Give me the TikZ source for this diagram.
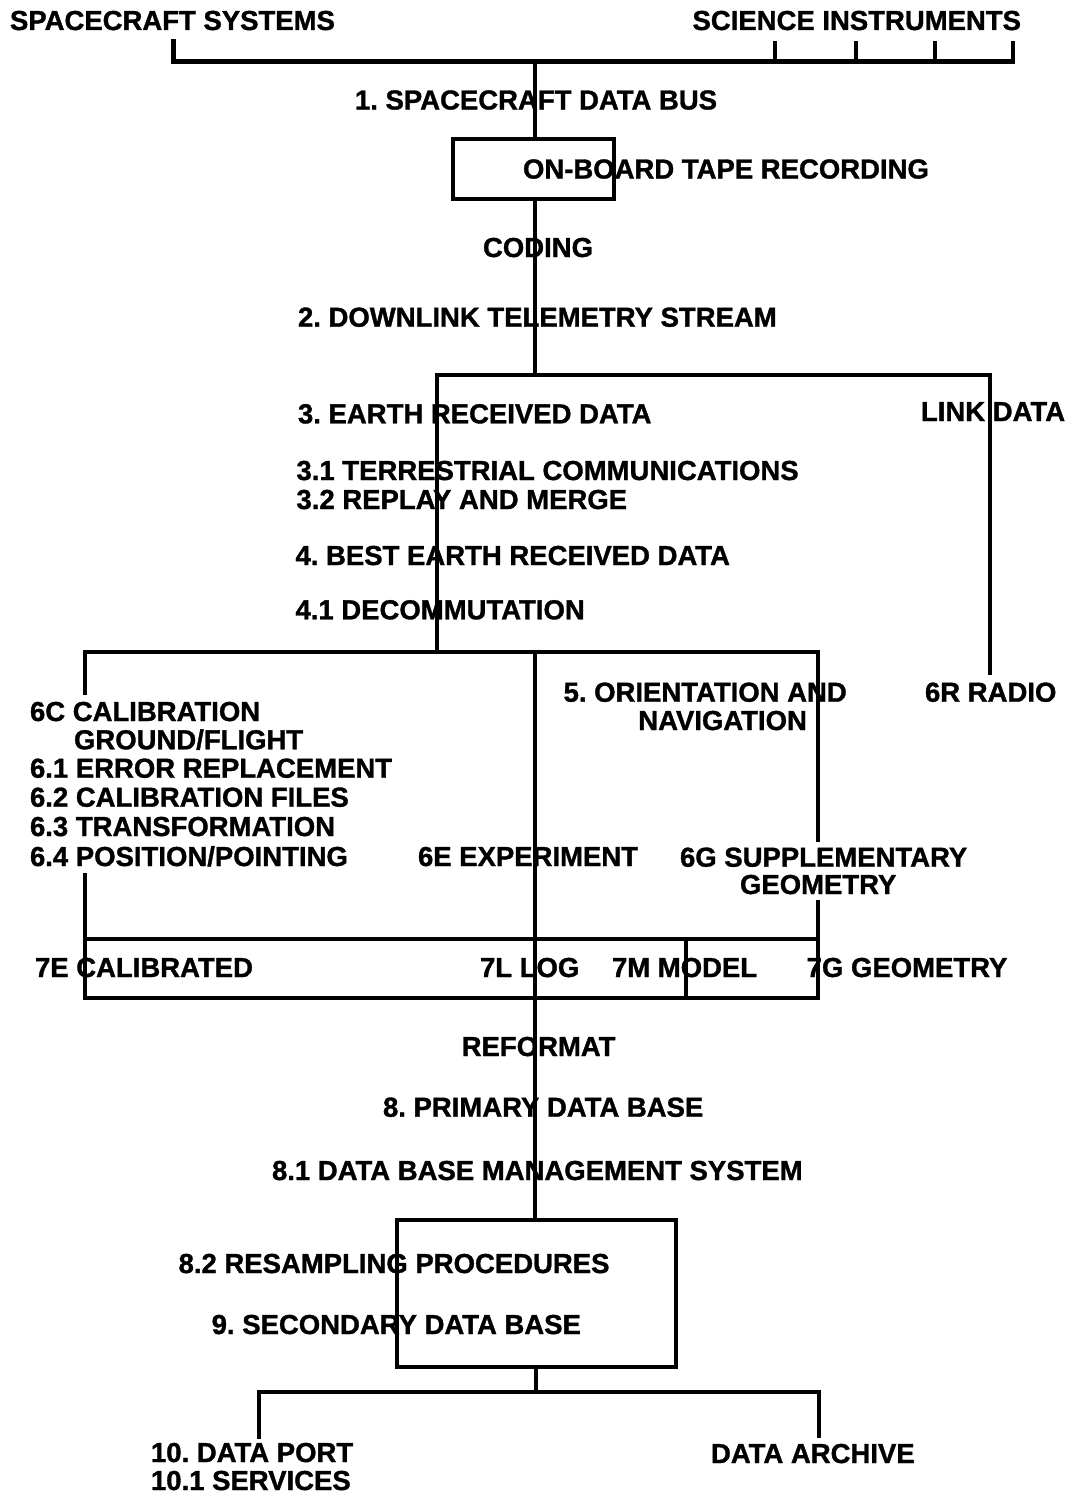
\documentclass[tikz,border=0pt]{standalone}
\usepackage{fontspec}
\setmainfont{Liberation Sans}
\newfontfamily\lblfam{Liberation Sans}[UprightFont=*-Bold, FakeBold=1.2]
\newcommand{\lblfont}{\lblfam\fontsize{27.5}{29}\selectfont\frenchspacing}
\begin{document}
\begin{tikzpicture}[x=1pt,y=-1pt,
  lbl/.style={anchor=base west, inner sep=0pt, outer sep=0pt, font=\lblfont},
  wire/.style={line width=4pt, line join=miter},
  busline/.style={line width=4.5pt, line join=miter}]
\fill[white] (0,0) rectangle (1075,1496);
\useasboundingbox (0,0) rectangle (1075,1496);

% ---- coordinates ----
\coordinate (tkL) at (173.5,39);
\coordinate (busL) at (173.5,61.5);
\coordinate (busR) at (1013,61.5);
\coordinate (tkR) at (1013,41.5);
\coordinate (tk1t) at (775,41.5);   \coordinate (tk1b) at (775,61.5);
\coordinate (tk2t) at (855.5,41.5); \coordinate (tk2b) at (855.5,61.5);
\coordinate (tk3t) at (934.5,41.5); \coordinate (tk3b) at (934.5,61.5);
\coordinate (busM) at (535,61.5);
\coordinate (boxAtop) at (535,138.5);
\coordinate (boxAbot) at (535,199.3);
\coordinate (boxAnw) at (452.5,138.5);
\coordinate (boxAse) at (613.6,199.3);
\coordinate (splitM) at (535,375);
\coordinate (splitL) at (437,375);
\coordinate (splitR) at (990,375);
\coordinate (linkEnd) at (990,675);
\coordinate (decEnd) at (437,651.7);
\coordinate (b6L) at (85,651.7);
\coordinate (b6M) at (535,651.7);
\coordinate (b6R) at (818,651.7);
\coordinate (c6top) at (85,695);
\coordinate (c6bot) at (85,873);
\coordinate (g6top) at (818,842);
\coordinate (g6bot) at (818,900);
\coordinate (b7L) at (85,938.5);
\coordinate (b7R) at (818,938.5);
\coordinate (b7M) at (685.5,938.5);
\coordinate (b8L) at (85,998);
\coordinate (b8R) at (818,998);
\coordinate (b8M) at (685.5,998);
\coordinate (boxBtop) at (535,1220);
\coordinate (boxBnw) at (396.7,1220);
\coordinate (boxBse) at (676,1366.7);
\coordinate (boxBbot) at (536,1366.7);
\coordinate (b10M) at (536,1391.7);
\coordinate (b10L) at (259,1391.7);
\coordinate (b10R) at (819,1391.7);
\coordinate (portTop) at (259,1439);
\coordinate (archTop) at (819,1438);

% ---- lines ----
\draw[busline] (tkL) -- (busL) -- (busR) -- (tkR);
\draw[wire] (tk1t) -- (tk1b);
\draw[wire] (tk2t) -- (tk2b);
\draw[wire] (tk3t) -- (tk3b);
\draw[wire] (busM) -- (boxAtop);
\draw[wire] (boxAnw) rectangle (boxAse);
\draw[wire] (boxAbot) -- (splitM);
\draw[wire] (decEnd) -- (splitL) -- (splitR) -- (linkEnd);
\draw[wire] (c6top) -- (b6L) -- (b6R) -- (g6top);
\draw[wire] (b6M) -- (boxBtop);
\draw[wire] (c6bot) -- (b8L) -- (b8R) -- (g6bot);
\draw[wire] (b7L) -- (b7R);
\draw[wire] (b7M) -- (b8M);
\draw[wire] (boxBnw) rectangle (boxBse);
\draw[wire] (boxBbot) -- (b10M);
\draw[wire] (portTop) -- (b10L) -- (b10R) -- (archTop);

% ---- labels ----
\node[lbl] (scsys) at (10,30) {SPACECRAFT SYSTEMS};
\node[lbl, anchor=base east] (sci) at (1021,30) {SCIENCE INSTRUMENTS};
\node[lbl] (n1) at (355,109.5) {1. SPACECRAFT DATA BUS};
\node[lbl] (tape) at (523,178.5) {ON-BOARD TAPE RECORDING};
\node[lbl] (coding) at (483,257) {CODING};
\node[lbl] (n2) at (298,326.7) {2. DOWNLINK TELEMETRY STREAM};
\node[lbl] (n3) at (298,423.3) {3. EARTH RECEIVED DATA};
\node[lbl] (link) at (921,421) {LINK DATA};
\node[lbl] (n31) at (296.5,480) {3.1 TERRESTRIAL COMMUNICATIONS};
\node[lbl] (n32) at (296.5,509) {3.2 REPLAY AND MERGE};
\node[lbl] (n4) at (295.5,565) {4. BEST EARTH RECEIVED DATA};
\node[lbl] (n41) at (295.5,619.3) {4.1 DECOMMUTATION};
\node[lbl] (n5a) at (563.6,701.7) {5. ORIENTATION AND};
\node[lbl] (n5b) at (638.3,730) {NAVIGATION};
\node[lbl] (n6r) at (925,701.7) {6R RADIO};
\node[lbl] (n6c) at (30,721) {6C CALIBRATION};
\node[lbl] (n6cb) at (74,749.3) {GROUND/FLIGHT};
\node[lbl] (n61) at (30,777.7) {6.1 ERROR REPLACEMENT};
\node[lbl] (n62) at (30,806.7) {6.2 CALIBRATION FILES};
\node[lbl] (n63) at (30,836) {6.3 TRANSFORMATION};
\node[lbl] (n64) at (30,866) {6.4 POSITION/POINTING};
\node[lbl] (n6e) at (418,866) {6E EXPERIMENT};
\node[lbl] (n6g) at (680,866.7) {6G SUPPLEMENTARY};
\node[lbl] (n6gb) at (740,894) {GEOMETRY};
\node[lbl] (n7e) at (35,977) {7E CALIBRATED};
\node[lbl] (n7l) at (480,977) {7L LOG};
\node[lbl] (n7m) at (612,977) {7M MODEL};
\node[lbl] (n7g) at (806.7,977) {7G GEOMETRY};
\node[lbl] (refmt) at (461.7,1056) {REFORMAT};
\node[lbl] (n8) at (383,1116.7) {8. PRIMARY DATA BASE};
\node[lbl] (n81) at (272,1180) {8.1 DATA BASE MANAGEMENT SYSTEM};
\node[lbl] (n82) at (178.6,1273) {8.2 RESAMPLING PROCEDURES};
\node[lbl] (n9) at (211.7,1334) {9. SECONDARY DATA BASE};
\node[lbl] (n10) at (151,1462) {10. DATA PORT};
\node[lbl] (n101) at (151,1490) {10.1 SERVICES};
\node[lbl] (arch) at (711,1463) {DATA ARCHIVE};
\end{tikzpicture}
\end{document}
